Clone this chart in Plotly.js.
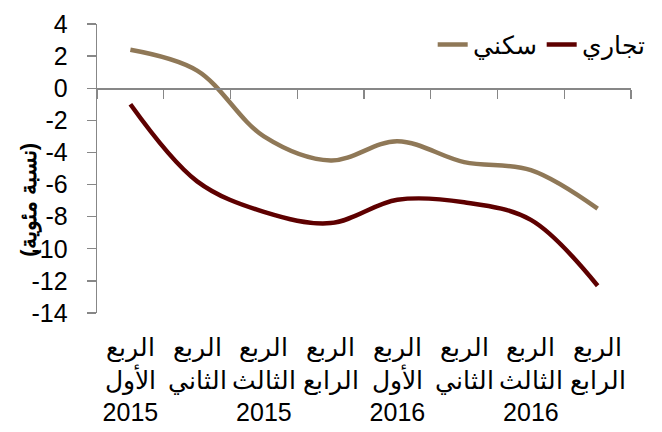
<!DOCTYPE html>
<html>
<head>
<meta charset="utf-8">
<script src="https://cdn.plot.ly/plotly-3.0.1.min.js"></script>
<style>html,body{margin:0;padding:0;background:#fff}#chart{width:662px;height:432px}</style>
</head>
<body>
<div id="chart"></div>
<script>
const categories = ["q1-2015","q2-2015","q3-2015","q4-2015","q1-2016","q2-2016","q3-2016","q4-2016"];
const tickLabels = [
  "الربع<br>الأول<br>2015",
  "الربع<br>الثاني",
  "الربع<br>الثالث<br>2015",
  "الربع<br>الرابع",
  "الربع<br>الأول<br>2016",
  "الربع<br>الثاني",
  "الربع<br>الثالث<br>2016",
  "الربع<br>الرابع"
];
const residentialName = "سكني";
const commercialName = "تجاري";
const residential = [2.4, 1.1, -3.0, -4.5, -3.3, -4.6, -5.1, -7.5];
const commercial = [-1.0, -5.8, -7.7, -8.4, -6.95, -7.1, -8.2, -12.3];
const yTickVals = [4, 2, 0, -2, -4, -6, -8, -10, -12, -14];
const yTickText = yTickVals.map(v => String(v));
const yTitle = "(نسبة مئوية)";

const FONT = "Arial, 'Liberation Sans', sans-serif";
const axisGray = "#878787";
const FS = 25;

const traces = [
  {x: categories, y: residential, name: residentialName, type: "scatter", mode: "lines",
   line: {color: "#8F7857", width: 4.5, shape: "spline", smoothing: 1}, xaxis: "x", yaxis: "y"},
  {x: categories, y: commercial, name: commercialName, type: "scatter", mode: "lines",
   line: {color: "#5E0000", width: 4.5, shape: "spline", smoothing: 1}, xaxis: "x2", yaxis: "y"}
];

const layout = {
  width: 662, height: 432,
  margin: {l: 97, r: 17, t: 24, b: 119},
  paper_bgcolor: "#fff", plot_bgcolor: "#fff",
  font: {family: FONT, size: FS, color: "#000"},
  showlegend: true,
  legend: {orientation: "h", x: 1.035, xanchor: "right", y: 0.928, yanchor: "middle",
           font: {family: FONT, size: FS, color: "#000"}, bgcolor: "rgba(0,0,0,0)", traceorder: "normal"},
  xaxis: {type: "category", categoryarray: categories, categoryorder: "array",
          range: [-0.5, 7.5], showline: false, showgrid: false, zeroline: false,
          ticks: "", tickmode: "array", tickvals: categories, ticktext: tickLabels,
          tickfont: {family: FONT, size: FS, color: "#000"}, ticklabelstandoff: 17, fixedrange: true},
  xaxis2: {type: "category", categoryarray: categories, categoryorder: "array",
           overlaying: "x", anchor: "free", position: 14/18, range: [-0.5, 7.5],
           showline: true, linecolor: axisGray, linewidth: 1.3, ticks: "outside", tickson: "boundaries",
           ticklen: 9, tickcolor: axisGray, tickwidth: 1.3, showticklabels: false, showgrid: false, zeroline: false},
  yaxis: {range: [-14, 4], tickmode: "array", tickvals: yTickVals, ticktext: yTickText,
          showline: true, linecolor: axisGray, linewidth: 1.3,
          ticks: "outside", ticklen: 9, tickcolor: axisGray, tickwidth: 1.3, showgrid: false, zeroline: false,
          tickfont: {family: FONT, size: FS, color: "#000"}, ticklabelstandoff: 14},
  annotations: [
    {text: yTitle, xref: "paper", yref: "paper", x: (27 - 97) / 548, y: (313 - 200) / 289,
     xanchor: "center", yanchor: "middle", textangle: -90, showarrow: false,
     font: {family: FONT, size: 22, color: "#000", weight: "bold"}}
  ]
};

Plotly.newPlot("chart", traces, layout, {displayModeBar: false, staticPlot: true});
</script>
</body>
</html>
